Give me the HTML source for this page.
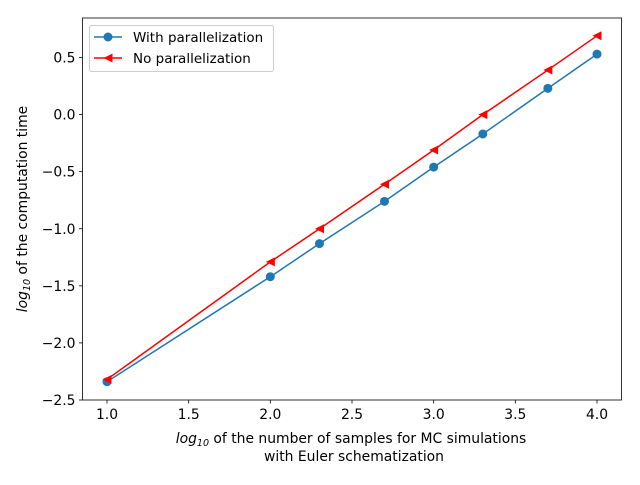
<!DOCTYPE html>
<html><head><meta charset="utf-8"><style>
body{margin:0;background:#fff}
svg text{font-family:"DejaVu Sans","Liberation Sans",sans-serif;font-size:13.9px;fill:#000}
</style></head><body>
<svg id="chart" width="640" height="480" xmlns="http://www.w3.org/2000/svg">
<g id="plot"></g>
</svg>
<script>
const xValues=[1,2,2.301,2.699,3,3.301,3.699,4];
const withPar=[-2.34,-1.42,-1.13,-0.76,-0.46,-0.17,0.23,0.53];
const noPar=[-2.32,-1.29,-1.0,-0.61,-0.31,0.0,0.39,0.69];
const xTicks=[1.0,1.5,2.0,2.5,3.0,3.5,4.0];
const yTicks=[-2.5,-2.0,-1.5,-1.0,-0.5,0.0,0.5];
const L=82.5,R=621.5,T=18,B=400;
const X0=0.85,X1=4.15,Y0=-2.5,Y1=0.846;
const sx=v=>L+(v-X0)/(X1-X0)*(R-L);
const sy=v=>B-(v-Y0)/(Y1-Y0)*(B-T);
const NS='http://www.w3.org/2000/svg';
const g=document.getElementById('plot');
function mk(t,a){const e=document.createElementNS(NS,t);for(const k in a)e.setAttribute(k,a[k]);g.appendChild(e);return e;}
const fmt=v=>(v<0?'\u2212':'')+Math.abs(v).toFixed(1);
xTicks.forEach(v=>{
 const l=mk('line',{x1:sx(v),x2:sx(v),y1:B,y2:B+3.5,stroke:'#000','stroke-width':0.8});
 
 
 const t=mk('text',{x:sx(v),y:B+19,'text-anchor':'middle'});t.textContent=fmt(v);
 
 
});
yTicks.forEach(v=>{
 const l=mk('line',{x1:L-3.5,x2:L,y1:sy(v),y2:sy(v),stroke:'#000','stroke-width':0.8});
 
 
 const t=mk('text',{x:L-7,y:sy(v)+5,'text-anchor':'end'});t.textContent=fmt(v);
 
 
});
function series(vals,color,name,marker){
 const p=mk('polyline',{points:xValues.map((x,i)=>sx(x)+','+sy(vals[i])).join(' '),fill:'none',stroke:color,'stroke-width':1.5});
 
 
 xValues.forEach((x,i)=>{
  const cx=sx(x),cy=sy(vals[i]);let m;
  if(marker==='o')m=mk('circle',{cx:cx,cy:cy,r:4.5,fill:color});
  else m=mk('polygon',{points:`${cx-4.5},${cy} ${cx+4.5},${cy-4.5} ${cx+4.5},${cy+4.5}`,fill:color});
  
  
 });
}
series(withPar,'#1f77b4','with-parallelization','o');
series(noPar,'#ff0000','no-parallelization','<');
const fr=mk('rect',{x:L,y:T,width:R-L,height:B-T,fill:'none',stroke:'#000','stroke-width':0.8});


</script>
<script>
(function(){
const s=document.getElementById('chart');
const h=`<g>
<rect x="89.5" y="25.5" width="184" height="46" rx="2" fill="#fff" fill-opacity="0.8" stroke="#ccc"/>
<line x1="94" y1="37" x2="122" y2="37" stroke="#1f77b4" stroke-width="1.5"/><circle cx="108" cy="37" r="4.5" fill="#1f77b4"/>
<text x="133" y="42" style="font-size:13.5px">With parallelization</text>
<line x1="94" y1="58" x2="122" y2="58" stroke="#f00" stroke-width="1.5"/><polygon points="103.5,58 112.5,53.5 112.5,62.5" fill="#f00"/>
<text x="133" y="63" style="font-size:13.5px">No parallelization</text>
</g>
<text x="351" y="443" text-anchor="middle"><tspan font-style="italic">log</tspan><tspan font-style="italic" font-size="9.5" dy="3">10</tspan><tspan dy="-3"> of the number of samples for MC simulations</tspan></text>
<text x="354" y="461" text-anchor="middle">with Euler schematization</text>
<text transform="translate(27,209) rotate(-90)" text-anchor="middle"><tspan font-style="italic">log</tspan><tspan font-style="italic" font-size="9.5" dy="3">10</tspan><tspan dy="-3"> of the computation time</tspan></text>`;
s.insertAdjacentHTML('beforeend',h);
})();
</script>
</body></html>
